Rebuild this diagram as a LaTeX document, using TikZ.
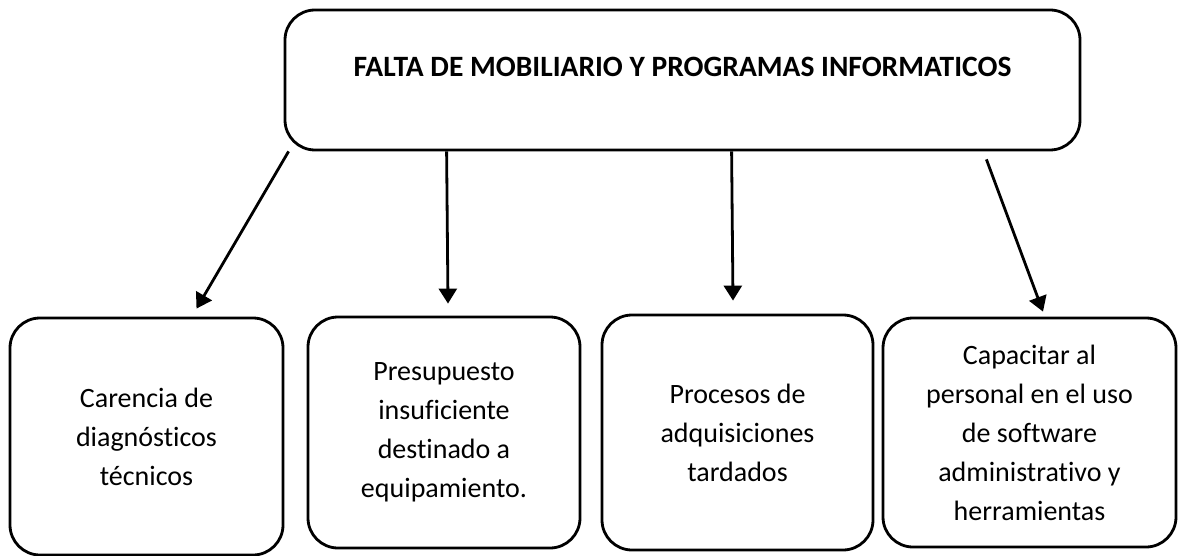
\documentclass[tikz,border=0pt]{standalone}
\usepackage{fontspec}
\setmainfont{Carlito}[Ligatures={NoCommon}]
\usetikzlibrary{arrows.meta}

\tikzset{
  causa/.style={draw, line width=2.8pt, rounded corners=30pt, align=center,
    font=\fontsize{28}{39}\selectfont, inner sep=0pt},
  problema/.style={causa, font=\fontsize{29.5}{35}\selectfont\bfseries,
    minimum width=795pt, minimum height=140pt, text depth=26pt},
  flecha/.style={-{Triangle[length=15pt,width=18pt]}, line width=2.8pt}
}

\begin{document}
\begin{tikzpicture}[x=1pt, y=-1pt]
      \useasboundingbox (0, 0) rectangle (1178, 556);
      \node [problema] (title) at (682.5, 80)
            {FALTA DE MOBILIARIO Y PROGRAMAS INFORMATICOS};
      % causas
      \node [causa, minimum width=273pt, minimum height=237pt] (c1) at (146.5, 436.5)
            {Carencia de\\diagnósticos\\técnicos};
      \node [causa, minimum width=272pt, minimum height=231pt] (c2) at (444, 432.5)
            {Presupuesto\\insuficiente\\destinado a\\equipamiento.};
      \node [causa, minimum width=271pt, minimum height=235pt] (c3) at (737.5, 432.5)
            {Procesos de\\adquisiciones\\tardados};
      \node [causa, minimum width=293pt, minimum height=229pt] (c4) at (1029.5, 432.5)
            {Capacitar al\\personal en el uso\\de software\\administrativo y\\herramientas};
      \draw [flecha] ([xshift=5pt]title.south west) -- ([xshift=50pt, yshift=8pt]c1.north);
      \draw [flecha] ([xshift=163pt]title.south west) -- ([xshift=4pt, yshift=12pt]c2.north);
      \draw [flecha] ([xshift=448pt]title.south west) -- ([xshift=-4.5pt, yshift=13pt]c3.north);
      \draw [flecha] ([xshift=-95pt, yshift=-8pt]title.south east) -- ([xshift=13.5pt, yshift=5pt]c4.north);
\end{tikzpicture}
\end{document}
